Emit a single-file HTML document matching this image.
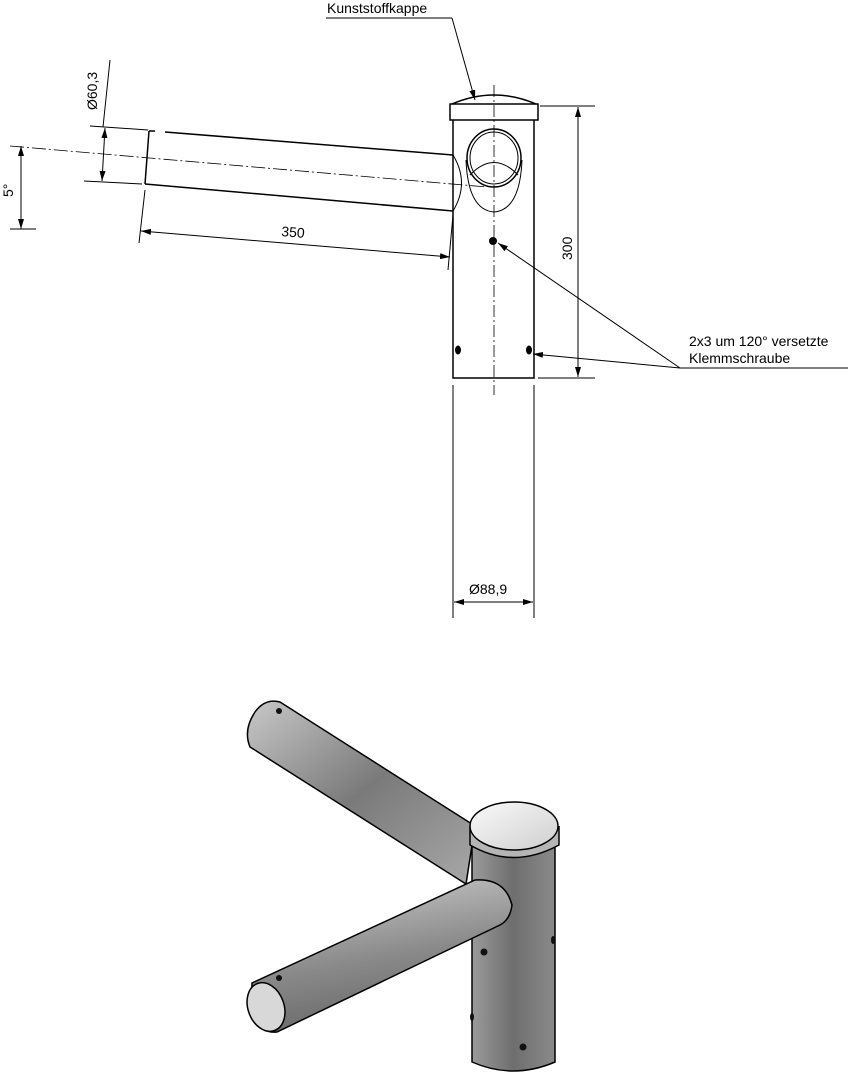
<!DOCTYPE html>
<html><head><meta charset="utf-8"><style>
html,body{margin:0;padding:0;background:#fff;}
svg{display:block;font-family:"Liberation Sans",sans-serif;}
</style></head><body>
<svg width="852" height="1080" viewBox="0 0 852 1080" xmlns="http://www.w3.org/2000/svg">
<defs>
<marker id="a" viewBox="0 0 10 6" refX="10" refY="3" markerWidth="10" markerHeight="6" orient="auto-start-reverse" markerUnits="userSpaceOnUse"><path d="M0,0 L10,3 L0,6 z" fill="#000"/></marker>
<linearGradient id="g1" x1="0" y1="0" x2="1" y2="1"><stop offset="0" stop-color="#c8c8c8"/><stop offset="0.5" stop-color="#7a7a7a"/><stop offset="1" stop-color="#a8a8a8"/></linearGradient>
<linearGradient id="g2" x1="0" y1="0" x2="0.3" y2="1"><stop offset="0" stop-color="#d0d0d0"/><stop offset="0.6" stop-color="#8a8a8a"/><stop offset="1" stop-color="#6a6a6a"/></linearGradient>
<linearGradient id="g3" x1="0" y1="0" x2="1" y2="0"><stop offset="0" stop-color="#9a9a9a"/><stop offset="0.5" stop-color="#6e6e6e"/><stop offset="1" stop-color="#8a8a8a"/></linearGradient>
<linearGradient id="g4" x1="0" y1="0" x2="1" y2="1"><stop offset="0" stop-color="#fafafa"/><stop offset="1" stop-color="#cfcfcf"/></linearGradient>
</defs>
<g fill="none" stroke="#000" stroke-width="1">
<line x1="326" y1="18" x2="452" y2="18"/>
<line x1="452" y1="18" x2="475" y2="100" marker-end="url(#a)"/>
<path d="M452,104 Q494,86 536,104" stroke-width="1.5"/>
<rect x="450" y="104" width="88" height="16" stroke-width="1.5"/>
<path d="M453,120 V378 H534 V120" stroke-width="1.5"/>
<line x1="494" y1="85" x2="494" y2="395" stroke-dasharray="12,3,2,3" stroke-width="0.8"/>
<ellipse cx="494" cy="158" rx="27" ry="29" stroke-width="1.5"/>
<ellipse cx="494" cy="158" rx="24" ry="26"/>
<path d="M470,175 Q494,150 518,175"/>
<path d="M466,160 Q468,210 494,212 Q520,210 522,160"/>
<line x1="149" y1="131" x2="155" y2="131" stroke-width="1.5"/>
<line x1="165" y1="132" x2="453" y2="155" stroke-width="1.5"/>
<line x1="149" y1="131" x2="145" y2="184" stroke-width="1.5"/>
<line x1="145" y1="184" x2="453" y2="211" stroke-width="1.5"/>
<path d="M453,155 Q470,183 453,211"/>
<line x1="10" y1="146" x2="487" y2="187" stroke-dasharray="14,3,2,3" stroke-width="0.8"/>
<line x1="90" y1="126" x2="148" y2="130"/>
<line x1="84" y1="181" x2="142" y2="184"/>
<line x1="110" y1="60" x2="103" y2="127"/>
<line x1="105" y1="128" x2="102" y2="181" marker-start="url(#a)" marker-end="url(#a)"/>
<line x1="10" y1="229" x2="36" y2="229"/>
<line x1="21" y1="146" x2="21" y2="229" marker-start="url(#a)" marker-end="url(#a)"/>
<line x1="145" y1="190" x2="139" y2="243"/>
<line x1="453" y1="215" x2="448" y2="270"/>
<line x1="141" y1="231" x2="450" y2="257" marker-start="url(#a)" marker-end="url(#a)"/>
<line x1="540" y1="106" x2="595" y2="106"/>
<line x1="538" y1="378" x2="595" y2="378"/>
<line x1="578" y1="107" x2="578" y2="377" marker-start="url(#a)" marker-end="url(#a)"/>
<line x1="680" y1="368" x2="848" y2="368"/>
<line x1="680" y1="368" x2="498" y2="243" marker-end="url(#a)"/>
<line x1="680" y1="368" x2="533" y2="354" marker-end="url(#a)"/>
<line x1="453" y1="385" x2="453" y2="618"/>
<line x1="534" y1="385" x2="534" y2="618"/>
<line x1="454" y1="602" x2="533" y2="602" marker-start="url(#a)" marker-end="url(#a)"/>
</g>
<g fill="#000">
<ellipse cx="493" cy="241" rx="4" ry="4"/>
<ellipse cx="458" cy="350" rx="3" ry="4.5"/>
<ellipse cx="529" cy="350" rx="3" ry="4.5"/>
</g>
<g font-size="14" fill="#000">
<text x="327" y="13">Kunststoffkappe</text>
<text transform="translate(97,110) rotate(-90)">Ø60,3</text>
<text transform="translate(13,197) rotate(-90)">5°</text>
<text transform="translate(281,236) rotate(4.8)">350</text>
<text transform="translate(572,260) rotate(-90)">300</text>
<text x="689" y="346">2x3 um 120° versetzte</text>
<text x="689" y="363">Klemmschraube</text>
<text x="469" y="594">Ø88,9</text>
</g>
<g stroke="#000" stroke-width="1.5">
<path d="M280,702 L475,826 L466,884 L250,747 Q243,730 255,712 Q265,698 280,702 z" fill="url(#g1)"/>
<path d="M472,845 L472,1062 Q513,1080 555,1062 L555,845 z" fill="url(#g3)"/>
<path d="M252,983 L475,880 Q505,878 512,905 Q510,920 500,925 L277,1032 Q250,1035 252,983 z" fill="url(#g2)"/>
<ellipse cx="266" cy="1007" rx="18" ry="25" transform="rotate(-20 266 1007)" fill="#d8d8d8"/>
<path d="M470,826 L470,845 Q513,870 559,845 L559,826" fill="#b5b5b5"/>
<ellipse cx="514" cy="826" rx="44" ry="24" fill="url(#g4)"/>
</g>
<g fill="#111">
<circle cx="279" cy="711" r="3"/>
<circle cx="279" cy="978" r="3"/>
<circle cx="484" cy="952" r="3.5"/>
<circle cx="523" cy="1047" r="3.5"/>
<ellipse cx="553" cy="940" rx="2" ry="4"/>
<ellipse cx="472" cy="1017" rx="2" ry="4"/>
</g>
</svg>
</body></html>
